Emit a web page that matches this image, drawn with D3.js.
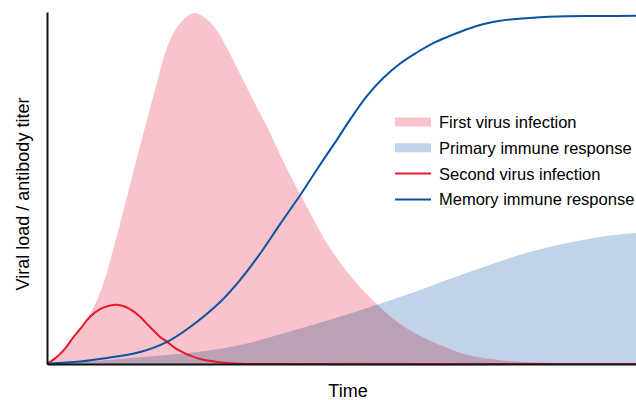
<!DOCTYPE html>
<html>
<head>
<meta charset="utf-8">
<script src="https://cdn.jsdelivr.net/npm/d3@7"></script>
<style>
  body { margin: 0; background: #fff; }
  svg { display: block; font-family: "Liberation Sans", Arial, sans-serif; }
</style>
</head>
<body>
<div id="chart"></div>
<script>
// values, time 0..100, level 0..100
var firstT = [0, 1, 2.2, 3.4, 4.8, 6.1, 7.3, 8.5, 9.3, 10.2, 11.2, 12.4, 14.1, 15.8, 17.5, 18.9, 20, 21.4, 23.1, 25,
              27.2, 28.9, 31.1, 32.8, 35, 37.4, 39.6, 41.8, 44.6, 48, 52, 56, 59.9, 63.3, 66.7, 71.3, 76.9, 83.7, 90.5, 100];
var firstV = [0, 1.4, 3.1, 5.1, 7.7, 10.8, 14.2, 18.2, 21.6, 26.1, 32.4, 39.8, 50.9, 61.9, 72.7, 81.3, 88.1, 93.8, 97.7, 99.7,
              97.9, 94.6, 88, 82.3, 75, 67.3, 59.4, 52, 43.2, 33, 24.1, 17, 11.4, 8, 5.4, 2.6, 1.1, 0.4, 0, 0];

var primaryT = [0, 7.3, 14.1, 25.5, 32.8, 40.4, 52, 56, 63.3, 71.3, 82.5, 93.9, 100];
var primaryV = [0.1, 0.7, 1.7, 3.4, 5.4, 8.8, 14.6, 16.8, 21, 25.9, 32.1, 36.1, 37.2];

var secondT = [0, 1.2, 2.2, 3.4, 4.4, 5.6, 7.3, 9, 10.4, 11.9, 13.4, 14.8, 15.8, 17.5, 19.2, 20.4, 21.7, 23.1, 24.3, 26, 28.9, 32.8, 36.2, 100];
var secondV = [0.1, 1.4, 2.8, 5.1, 7.4, 9.9, 13.4, 15.6, 16.5, 16.8, 16.2, 14.8, 13.4, 10.5, 7.7, 6.3, 4.6, 3.3, 2.4, 1.4, 0.6, 0.1, 0, 0];

var memoryT = [0, 5.6, 10.2, 15.8, 20.4, 24.3, 29.4, 32.8, 36.5, 39.6, 43, 46, 49.1, 51.4, 54.3, 57, 59.9, 62.8, 65.5, 68.4,
               71.3, 74, 76.9, 82.5, 88.3, 93.9, 100];
var memoryV = [0.1, 0.7, 1.7, 3.4, 6.3, 10.5, 17.6, 23.9, 32.1, 39.8, 48, 55.7, 63.4, 69.3, 76.1, 81.1, 85.3, 88.5, 91.1, 93.2,
               95.1, 96.5, 97.5, 98.4, 98.8, 98.85, 98.9];

var legendLabels = ["First virus infection", "Primary immune response", "Second virus infection", "Memory immune response"];
var colors = ["#f8c3ca", "#c0d3e9", "#e8192c", "#0a52a3"];

var W = 636, H = 400;
var margin = {top: 12, right: 0, bottom: 36, left: 47};

var x = d3.scaleLinear().domain([0, 100]).range([margin.left, W - margin.right]);
var y = d3.scaleLinear().domain([0, 100]).range([H - margin.bottom, margin.top]);

function zip(ts, vs) {
  return ts.map(function(t, i) { return {t: t, v: vs[i]}; });
}

var svg = d3.select("#chart").append("svg")
  .attr("width", W)
  .attr("height", H);

var curve = d3.curveCatmullRom.alpha(0.5);

var area = d3.area()
  .curve(curve)
  .x(function(d) { return x(d.t); })
  .y0(y(0))
  .y1(function(d) { return y(d.v); });

var line = d3.line()
  .curve(curve)
  .x(function(d) { return x(d.t); })
  .y(function(d) { return y(d.v); });

var plot = svg.append("g").style("isolation", "isolate");

plot.append("path")
  .attr("d", area(zip(firstT, firstV)))
  .attr("fill", colors[0]);

plot.append("path")
  .attr("d", area(zip(primaryT, primaryV)))
  .attr("fill", colors[1])
  .style("mix-blend-mode", "multiply");

svg.append("path")
  .attr("d", line(zip(secondT, secondV)))
  .attr("fill", "none")
  .attr("stroke", colors[2])
  .attr("stroke-width", 2);

svg.append("path")
  .attr("d", line(zip(memoryT, memoryV)))
  .attr("fill", "none")
  .attr("stroke", colors[3])
  .attr("stroke-width", 2);

// axes: plain lines, no ticks
svg.append("g")
  .attr("transform", "translate(0," + y(0) + ")")
  .call(d3.axisBottom(x).ticks(0).tickSizeOuter(0));
svg.append("g")
  .attr("transform", "translate(" + x(0) + ",0)")
  .call(d3.axisLeft(y).ticks(0).tickSizeOuter(0));
svg.selectAll(".domain")
  .attr("stroke", "#111")
  .attr("stroke-width", 2);

svg.append("text")
  .attr("x", 348)
  .attr("y", 397)
  .attr("text-anchor", "middle")
  .style("font-size", "18px")
  .text("Time");

svg.append("text")
  .attr("transform", "translate(28.5,194) rotate(-90)")
  .attr("text-anchor", "middle")
  .style("font-size", "18px")
  .text("Viral load / antibody titer");

var legend = svg.selectAll(".legend")
  .data(legendLabels)
  .enter().append("g")
  .attr("class", "legend")
  .attr("transform", function(d, i) { return "translate(395," + (122 + i * 25.8) + ")"; });

legend.each(function(d, i) {
  var g = d3.select(this);
  if (i < 2) {
    g.append("rect")
      .attr("x", 0).attr("y", -4.5)
      .attr("width", 36).attr("height", 9)
      .attr("fill", colors[i]);
  } else {
    g.append("line")
      .attr("x1", 0).attr("x2", 36)
      .attr("stroke", colors[i])
      .attr("stroke-width", 2);
  }
});

legend.append("text")
  .attr("x", 44)
  .attr("y", 6)
  .style("font-size", "16.5px")
  .text(function(d) { return d; });
</script>
</body>
</html>
